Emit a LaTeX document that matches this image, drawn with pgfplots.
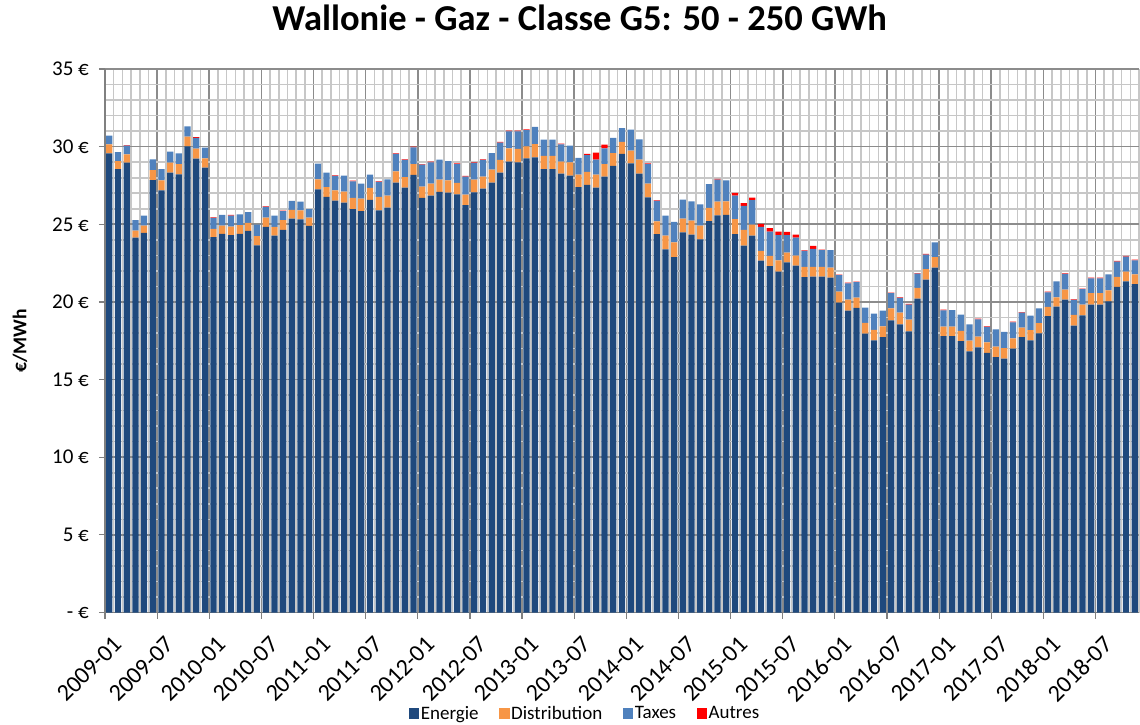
\documentclass[border=0pt]{standalone}
\usepackage{fontspec}
\setmainfont{Carlito}
\usepackage{pgfplots}
\usepackage{pgfplotstable}
\pgfplotsset{compat=1.18}

\definecolor{energie}{RGB}{31,73,125}
\definecolor{distribution}{RGB}{247,150,70}
\definecolor{taxes}{RGB}{79,129,189}
\definecolor{autres}{RGB}{255,0,0}

% Monthly price components (EUR/MWh), 2009-01 to 2018-11
\pgfplotstableread{
n E D T A
1 29.57 0.58 0.56 0
2 28.56 0.50 0.58 0
3 28.97 0.54 0.55 0.04
4 24.14 0.45 0.67 0
5 24.44 0.47 0.65 0
6 27.85 0.63 0.70 0
7 27.19 0.64 0.73 0
8 28.33 0.64 0.71 0
9 28.22 0.66 0.69 0
10 30.02 0.62 0.67 0
11 29.23 0.64 0.69 0.05
12 28.65 0.60 0.69 0
13 24.18 0.52 0.71 0.04
14 24.38 0.53 0.69 0
15 24.31 0.54 0.71 0.04
16 24.38 0.56 0.70 0
17 24.57 0.52 0.70 0
18 23.65 0.58 0.75 0
19 24.83 0.60 0.69 0.04
20 24.27 0.56 0.73 0
21 24.64 0.62 0.58 0.04
22 25.36 0.56 0.58 0
23 25.32 0.58 0.56 0
24 24.89 0.54 0.54 0
25 27.25 0.65 1.01 0
26 26.76 0.64 0.93 0
27 26.52 0.67 0.92 0.04
28 26.39 0.71 1.03 0
29 25.97 0.73 1.07 0.04
30 25.84 0.81 0.97 0
31 26.57 0.77 0.86 0
32 25.90 0.86 0.97 0.04
33 26.07 0.78 1.05 0
34 27.68 0.73 1.12 0.04
35 27.36 0.67 1.11 0.04
36 28.18 0.70 1.08 0.04
37 26.70 0.72 1.42 0.04
38 26.85 0.77 1.37 0.04
39 27.08 0.80 1.28 0
40 27.04 0.79 1.23 0
41 26.93 0.73 1.22 0.04
42 26.24 0.67 1.16 0.04
43 27.06 0.82 1.07 0.04
44 27.30 0.77 1.07 0.04
45 27.68 0.84 1.07 0
46 28.33 0.81 1.12 0.04
47 29.03 0.86 1.10 0.04
48 28.99 0.86 1.14 0.04
49 29.25 0.77 1.05 0.04
50 29.31 0.86 1.10 0
51 28.56 0.84 1.05 0
52 28.56 0.84 1.05 0
53 28.26 0.77 1.12 0.05
54 28.13 0.86 1.07 0
55 27.40 0.80 1.07 0
56 27.53 0.84 1.09 0.07
57 27.36 0.84 0.96 0.45
58 28.07 0.81 1.01 0.24
59 28.76 0.83 0.97 0
60 29.53 0.77 0.90 0
61 28.93 0.81 1.35 0
62 28.26 0.90 1.31 0
63 26.74 0.88 1.26 0.04
64 24.36 0.83 1.31 0.04
65 23.39 0.88 1.29 0
66 22.88 0.96 1.31 0
67 24.48 0.88 1.23 0
68 24.33 0.91 1.24 0
69 24.03 0.88 1.38 0
70 25.21 0.84 1.53 0
71 25.58 0.88 1.42 0.04
72 25.60 0.88 1.35 0
73 24.36 0.98 1.51 0.17
74 23.63 1.01 1.54 0.19
75 24.27 0.71 1.57 0.17
76 22.66 0.62 1.55 0.19
77 22.30 0.66 1.57 0.23
78 21.95 0.73 1.63 0.22
79 22.55 0.63 1.13 0.20
80 22.34 0.64 1.16 0.19
81 21.59 0.66 1.03 0.04
82 21.63 0.62 1.16 0.20
83 21.63 0.62 1.08 0.04
84 21.57 0.64 1.12 0
85 19.96 0.71 1.05 0.04
86 19.44 0.71 1.05 0.04
87 19.61 0.67 0.99 0.04
88 17.96 0.69 0.99 0
89 17.53 0.67 1.05 0
90 17.73 0.70 1.01 0
91 18.82 0.77 0.97 0.04
92 18.56 0.75 0.95 0.04
93 18.11 0.75 0.97 0.04
94 20.21 0.69 0.92 0.04
95 21.44 0.68 0.93 0.04
96 22.21 0.68 0.95 0
97 17.79 0.62 1.05 0.04
98 17.79 0.62 1.07 0
99 17.47 0.66 1.05 0
100 16.82 0.69 1.05 0
101 17.08 0.69 1.11 0.04
102 16.72 0.68 0.99 0.04
103 16.44 0.68 1.12 0
104 16.35 0.67 1.05 0
105 17.00 0.66 1.03 0.04
106 17.73 0.62 0.96 0.04
107 17.53 0.65 0.94 0
108 17.98 0.65 0.96 0
109 19.08 0.60 0.94 0.04
110 19.70 0.60 1.03 0
111 20.15 0.64 1.01 0.04
112 18.48 0.68 0.97 0.04
113 19.14 0.69 0.99 0.04
114 19.83 0.73 0.96 0.04
115 19.83 0.73 0.96 0.04
116 20.04 0.71 1.03 0
117 20.97 0.64 0.99 0.04
118 21.33 0.62 0.97 0.04
119 21.14 0.64 0.90 0.04
}\prix

\begin{document}
\begin{tikzpicture}
\useasboundingbox (0,0) rectangle (1140pt,724pt);
\begin{axis}[
  at={(105pt,111.5pt)}, anchor=south west,
  width=1034pt, height=543.5pt, scale only axis,
  ybar stacked, bar width=0.72,
  xmin=0, xmax=119, ymin=0, ymax=35,
  axis lines=left,
  axis line style={-, black!50, line width=1.2pt},
  xtick={0,6,...,114},
  xticklabels={2009-01,2009-07,2010-01,2010-07,2011-01,2011-07,2012-01,2012-07,2013-01,2013-07,2014-01,2014-07,2015-01,2015-07,2016-01,2016-07,2017-01,2017-07,2018-01,2018-07},
  minor xtick={0,...,119},
  ytick={0,5,...,35},
  yticklabels={- €,5 €,10 €,15 €,20 €,25 €,30 €,35 €},
  minor ytick={0,...,35},
  grid=both,
  major grid style={black!45, line width=1.6pt},
  minor grid style={black!22, line width=1.6pt},
  tick align=outside,
  major tick length=6pt, minor tick length=0pt,
  tick style={black!50, line width=1.2pt},
  xticklabel style={inner sep=0pt, xshift=13pt, yshift=-22pt, rotate=45, anchor=east, font=\fontsize{24pt}{28pt}\selectfont},
  yticklabel style={inner sep=0pt, xshift=-10pt, anchor=east, font=\fontsize{21pt}{24pt}\selectfont},
  ylabel={€/MWh},
  ylabel style={at={(axis description cs:-0.0822,0.5)}, anchor=center, font=\fontsize{19.5pt}{22pt}\selectfont\bfseries},
  title={Wallonie - Gaz - Classe G5: 50 - 250 GWh},
  title style={at={(axis description cs:0.459,1)}, anchor=base, yshift=32pt, font=\fontsize{36.5pt}{40pt}\selectfont\bfseries},
  legend style={at={(axis description cs:0.464,-0.186)}, anchor=center, draw=none, fill=none,
    legend columns=4, font=\fontsize{19pt}{22pt}\selectfont,
    nodes={inner sep=1.5pt},
    /tikz/every even column/.append style={column sep=19pt}},
  legend image code/.code={\fill[#1] (0pt,-5pt) rectangle (10.5pt,5.5pt);},
]
\addplot[fill=energie, draw=none] table[x expr=\thisrow{n}-0.5, y=E]{\prix};
\addplot[fill=distribution, draw=none] table[x expr=\thisrow{n}-0.5, y=D]{\prix};
\addplot[fill=taxes, draw=none] table[x expr=\thisrow{n}-0.5, y=T]{\prix};
\addplot[fill=autres, draw=none] table[x expr=\thisrow{n}-0.5, y=A]{\prix};
\legend{Energie,Distribution,Taxes,Autres}
\end{axis}
\end{tikzpicture}
\end{document}
